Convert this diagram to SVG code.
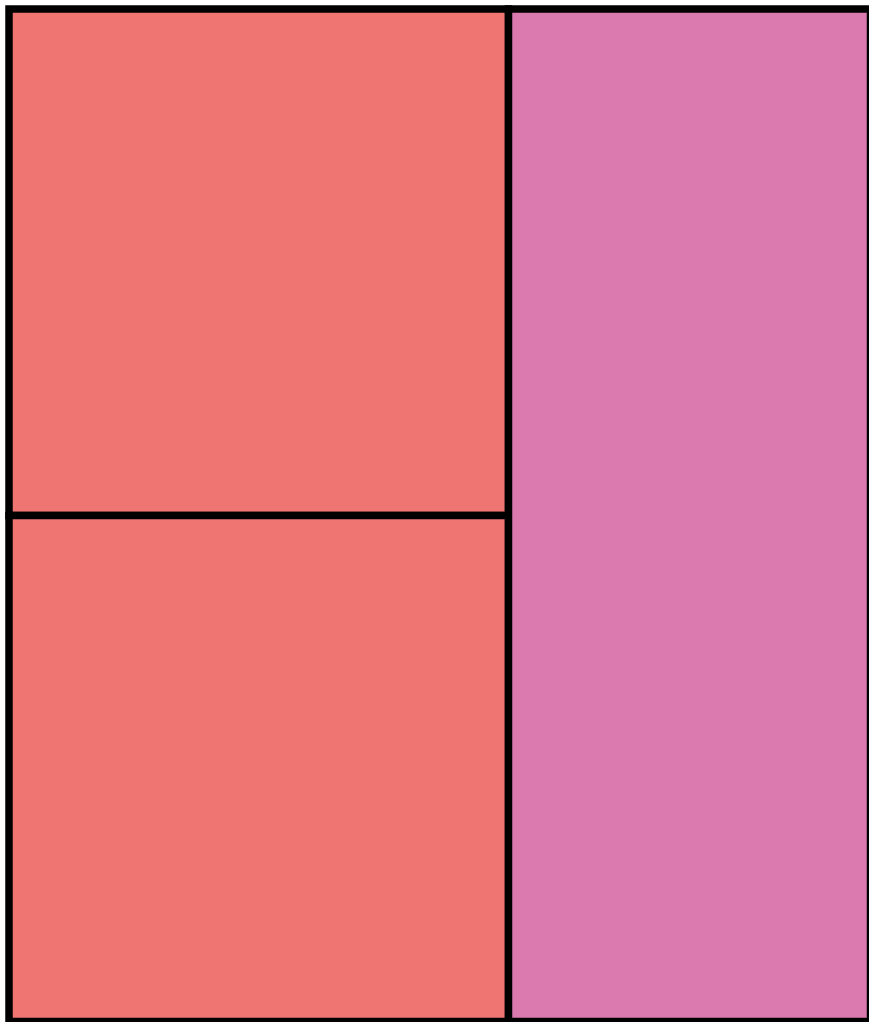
<svg xmlns="http://www.w3.org/2000/svg" width="869" height="1022" viewBox="0 0 869 1022">
<style>
.cell{stroke:#000;stroke-width:7.5}
.red{fill:#EE7571}
.pink{fill:#DB7AAF}
</style>
<rect width="869" height="1022" fill="#fff"/>
<g id="top-left"><rect class="cell red" x="9" y="9" width="499.5" height="506.5"/></g>
<g id="bottom-left"><rect class="cell red" x="9" y="515.5" width="499.5" height="506"/></g>
<g id="right"><rect class="cell pink" x="508.5" y="9" width="362" height="1012.5"/></g>
</svg>
